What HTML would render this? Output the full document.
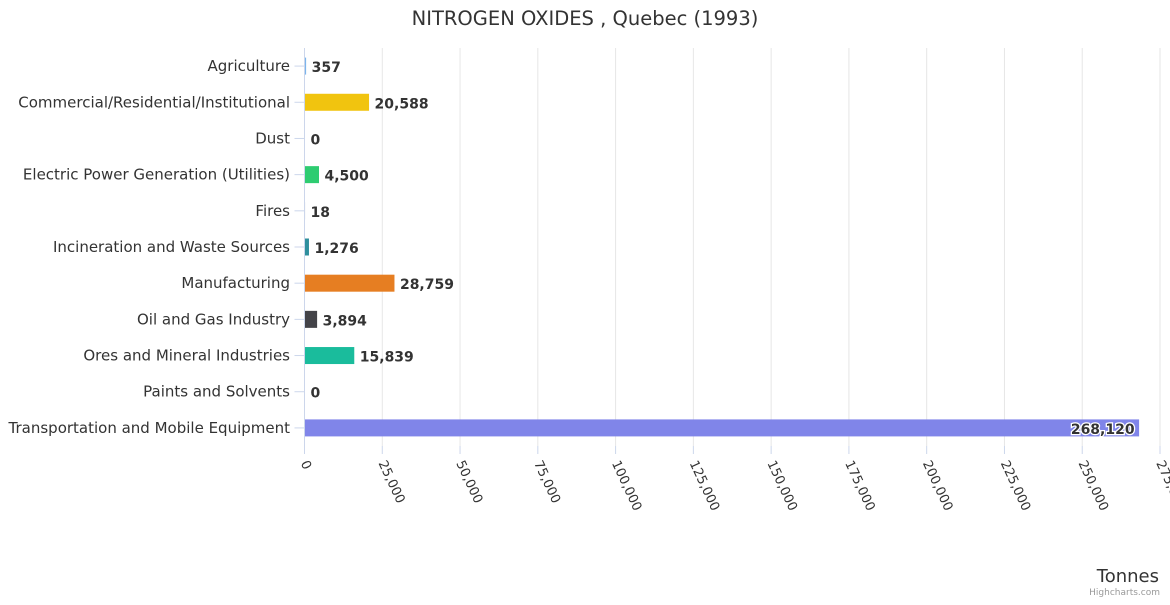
<!DOCTYPE html>
<html><head><meta charset="utf-8"><style>
body{margin:0;background:#fff;font-family:"Liberation Sans","DejaVu Sans",sans-serif}
svg text{font-family:"DejaVu Sans","Liberation Sans",sans-serif}
</style></head><body>
<svg id="chart" width="1170" height="600">
<text x="585" y="25" text-anchor="middle" font-size="19.5" fill="#333">NITROGEN OXIDES , Quebec (1993)</text>
<g id="grid"></g><g id="bars"></g><g id="labels"></g>
<text x="1159" y="582" text-anchor="end" font-size="18" fill="#333">Tonnes</text>
<text x="1160" y="595" text-anchor="end" font-size="9" fill="#999">Highcharts.com</text>
</svg>
<script>
const categories=["Agriculture","Commercial/Residential/Institutional","Dust","Electric Power Generation (Utilities)","Fires","Incineration and Waste Sources","Manufacturing","Oil and Gas Industry","Ores and Mineral Industries","Paints and Solvents","Transportation and Mobile Equipment"];
const values=[357,20588,0,4500,18,1276,28759,3894,15839,0,268120];
const colors=["#7cb5ec","#f1c40f","#000","#2ecc71","#999","#2f8f9d","#e67e22","#434348","#1abc9c","#999","#8085e9"];
const ticks=[0,25000,50000,75000,100000,125000,150000,175000,200000,225000,250000,275000];
const NS="http://www.w3.org/2000/svg";
const x0=304.5,x1=1160,yTop=48,yBot=446,maxV=275000;
const xs=v=>x0+(x1-x0)*v/maxV;
const band=(yBot-yTop)/categories.length;
const yc=i=>yTop+band*(i+0.5);
function mk(t,a,p){const e=document.createElementNS(NS,t);for(const k in a)e.setAttribute(k,a[k]);p.appendChild(e);return e;}
const grid=document.getElementById('grid'),bars=document.getElementById('bars'),lab=document.getElementById('labels');
const fmt=v=>v.toLocaleString('en-US');
ticks.forEach(t=>{
 if(t>0){const g=mk('line',{x1:xs(t),x2:xs(t),y1:yTop,y2:yBot,stroke:'#e6e6e6'},grid);
 
 }
 const tl=mk('line',{x1:xs(t),x2:xs(t),y1:yBot,y2:yBot+8,stroke:'#ccd6eb'},grid);
 
 
 const tx=xs(t)-4,ty=463;
 const tt=mk('text',{x:tx,y:ty,'font-size':13,fill:'#333',transform:`rotate(65 ${tx} ${ty})`},grid);
 tt.textContent=fmt(t);
 
 
});
const ax=mk('line',{x1:x0,x2:x0,y1:yTop,y2:yBot,stroke:'#ccd6eb'},grid);


categories.forEach((c,i)=>{
 const y=yc(i);
 const tk=mk('line',{x1:x0-10,x2:x0,y1:y,y2:y,stroke:'#ccd6eb'},grid);
 
 
 const cl=mk('text',{x:290,y:y+5,'text-anchor':'end','font-size':15,fill:'#333'},lab);
 cl.textContent=c;
 
 
 const w=Math.max(xs(values[i])-x0,0);
 const r=mk('rect',{x:x0+0.5,y:y-8.5,width:w,height:17,fill:colors[i]},bars);
 
 
 const inside=w>700;
 const vl=mk('text',{x:inside?x0+w-4:x0+w+6,y:y+6,'text-anchor':inside?'end':'start','font-size':14,'font-weight':'bold',fill:'#333',stroke:'#fff','stroke-width':inside?2.5:0,'paint-order':'stroke'},lab);
 vl.textContent=fmt(values[i]);
 
 
});
</script>
</body></html>
